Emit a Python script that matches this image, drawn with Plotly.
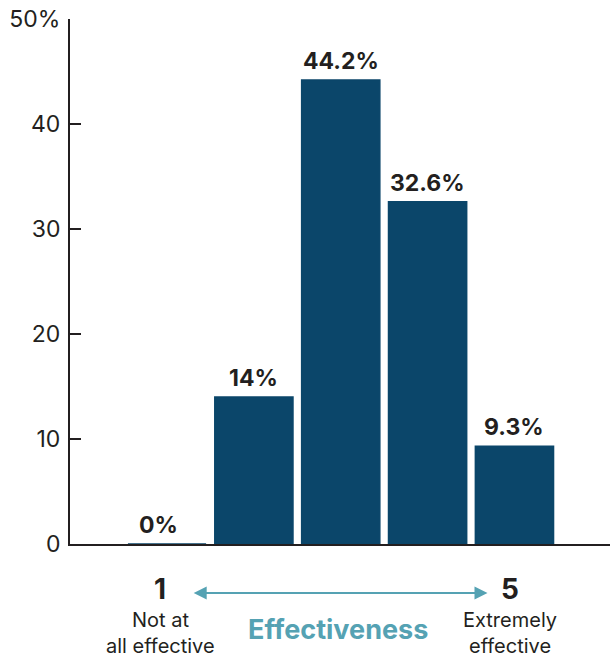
import plotly.graph_objects as go

categories = [1, 2, 3, 4, 5]
values = [0, 14, 44.2, 32.6, 9.3]
value_labels = ["0%", "14%", "44.2%", "32.6%", "9.3%"]
y_tickvals = [0, 10, 20, 30, 40, 50]
y_ticktext = ["0", "10", "20", "30", "40", "50%"]
low_end = ["1", "Not at", "all effective"]
high_end = ["5", "Extremely", "effective"]
axis_title = "Effectiveness"

BAR = "#0b466a"
DARK = "#231f20"
TEAL = "#55a2b3"
FONT = "Inter, Open Sans, sans-serif"

xpos = list(range(len(categories)))

fig = go.Figure()
fig.add_trace(go.Bar(
    x=xpos, y=values, width=0.9,
    marker=dict(color=BAR, line=dict(color=BAR, width=1.5)),
    hoverinfo="skip",
))

annotations = []
for xi, v, t in zip(xpos, values, value_labels):
    annotations.append(dict(
        x=xi, y=v, xref="x", yref="y", text=f"<b>{t}</b>", showarrow=False,
        yanchor="bottom", yshift=3, xshift=(-9 if v == 0 else 0),
        font=dict(family=FONT, size=23, color=DARK),
    ))


def end_labels(xv, xs, labels):
    out = [dict(x=xv, y=0, xref="x", yref="paper", text=f"<b>{labels[0]}</b>", showarrow=False,
                xshift=xs, yanchor="middle", yshift=-(589 - 544), borderpad=0,
                font=dict(family=FONT, size=28, color=DARK))]
    for line, cy in zip(labels[1:], [620, 646]):
        out.append(dict(x=xv, y=0, xref="x", yref="paper", text=line, showarrow=False,
                        xshift=xs, yanchor="middle", yshift=-(cy - 544), borderpad=0,
                        font=dict(family=FONT, size=20, color=DARK)))
    return out


annotations += end_labels(xpos[0], -7, low_end)
annotations += end_labels(xpos[-1], -4, high_end)
annotations += [
    dict(x=(xpos[0] + xpos[-1]) / 2 - 0.03, y=0, xref="x", yref="paper", text=f"<b>{axis_title}</b>",
         showarrow=False, yanchor="middle", yshift=-(629 - 544), borderpad=0,
         font=dict(family=FONT, size=27, color=TEAL)),
    dict(x=3.69, y=-(593 - 544) / 525, xref="x", yref="paper",
         ax=0.29, ay=0, axref="x", ayref="pixel",
         text="", showarrow=True, arrowside="end+start", arrowhead=2,
         arrowsize=1.3, arrowwidth=2, arrowcolor=TEAL, standoff=0, startstandoff=0),
]

fig.update_layout(
    width=610, height=659,
    margin=dict(l=70, r=0, t=19, b=115, autoexpand=False),
    paper_bgcolor="white", plot_bgcolor="white",
    showlegend=False,
    bargap=0.1,
    annotations=annotations,
    xaxis=dict(range=[-1.117, 5.10], showline=True, linecolor=DARK, linewidth=2,
               showticklabels=False, ticks="", showgrid=False, zeroline=False, fixedrange=True),
    yaxis=dict(range=[0, 50], tickvals=y_tickvals, ticktext=y_ticktext,
               showline=True, linecolor=DARK, linewidth=2, ticks="inside", ticklen=11,
               tickwidth=2, tickcolor=DARK, showgrid=False, zeroline=False,
               tickfont=dict(family=FONT, size=23, color=DARK), ticklabelstandoff=3,
               fixedrange=True),
)

fig.write_html("out.html")
